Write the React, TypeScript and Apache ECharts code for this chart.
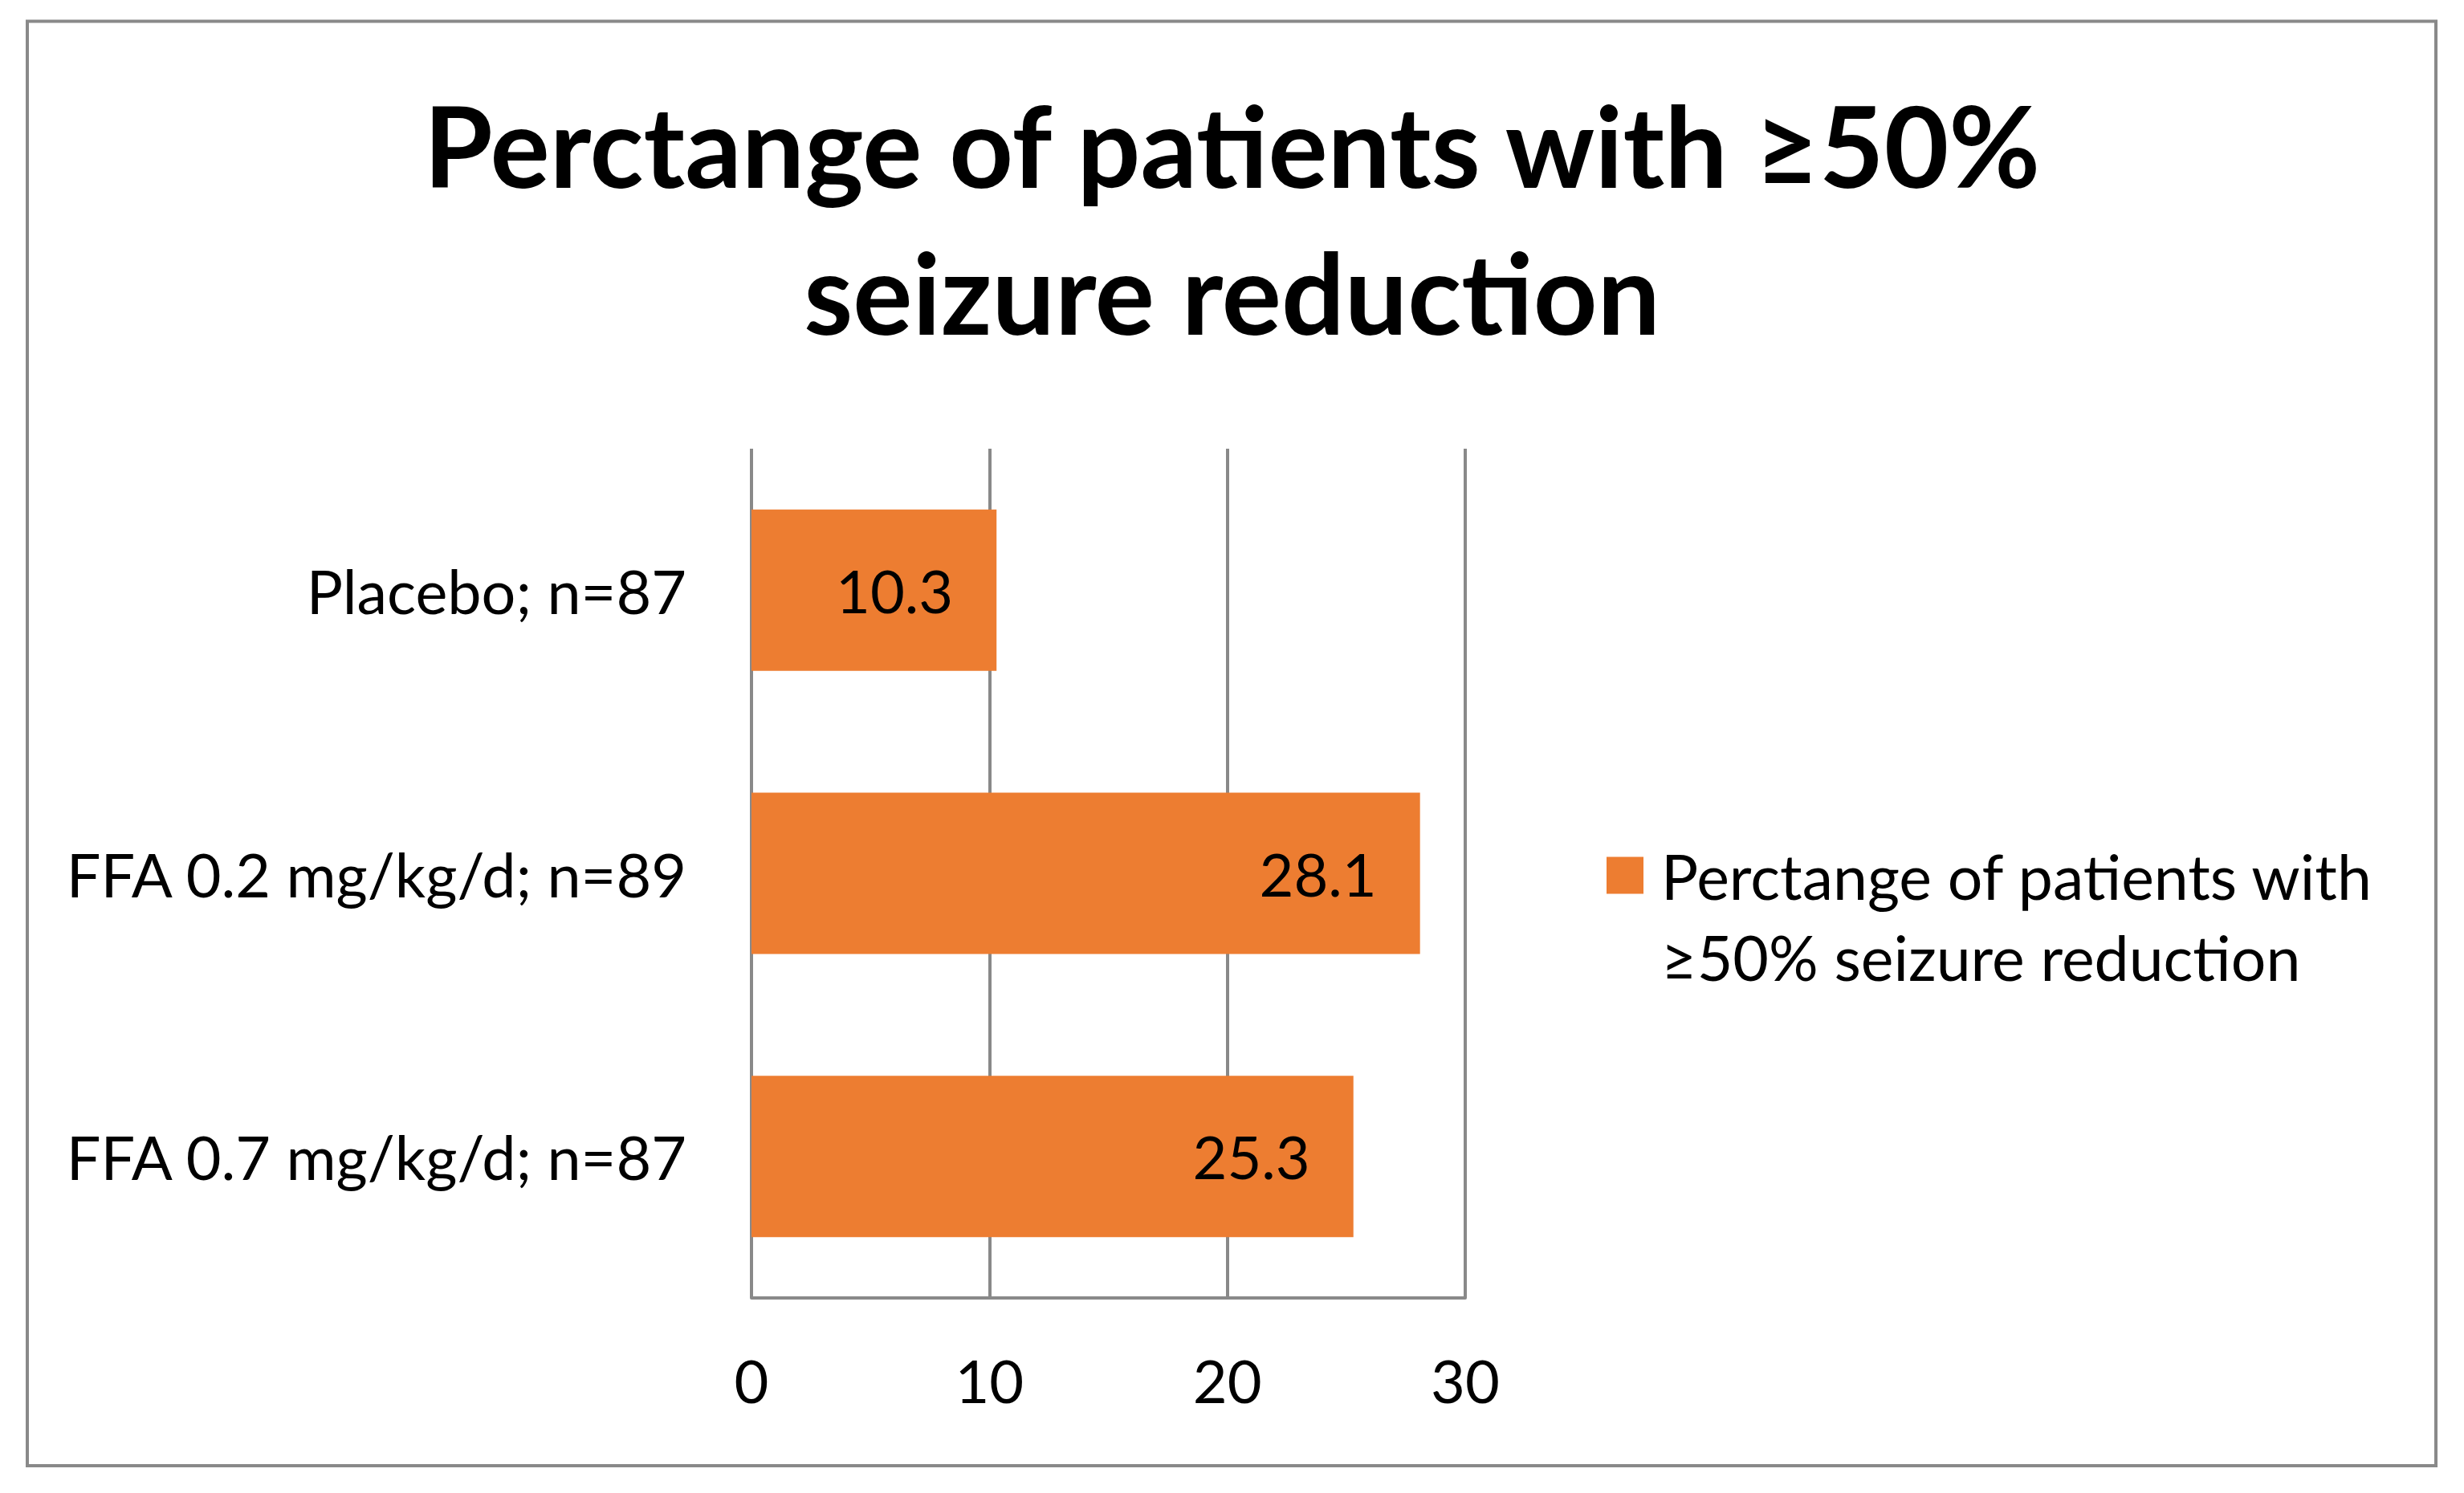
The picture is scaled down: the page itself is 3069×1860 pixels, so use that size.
import React, { useEffect, useRef } from "react";
import * as echarts from "echarts";

const categories = ["Placebo; n=87", "FFA 0.2 mg/kg/d; n=89", "FFA 0.7 mg/kg/d; n=87"];
const values = [10.3, 28.1, 25.3];
const seriesName = "Perctange of patients with ≥50% seizure reduction";
const legendLines = ["Perctange of patients with", "≥50% seizure reduction"];
const titleText = "Perctange of patients with ≥50%\nseizure reduction";
const xTicks = { min: 0, max: 30, interval: 10 };

const FONT = "Lato, 'Open Sans', sans-serif";
const GRAY = "#898989";

export default function App() {
  const ref = useRef<HTMLDivElement>(null);
  useEffect(() => {
    if (!ref.current) return;
    const chart = echarts.init(ref.current, undefined, { renderer: "svg" });
    chart.setOption({
      animation: false,
      backgroundColor: "#ffffff",
      textStyle: { fontFamily: FONT },
      title: {
        text: titleText,
        left: "center",
        top: 89,
        padding: 0,
        textStyle: {
          fontFamily: FONT,
          fontSize: 139,
          fontWeight: "bold",
          lineHeight: 183,
          color: "#000000",
        },
      },
      graphic: [
        {
          type: "rect",
          shape: { x: 34, y: 26.5, width: 3000, height: 1799.5 },
          style: { fill: "none", stroke: GRAY, lineWidth: 4 },
          silent: true,
        },
      ],
      legend: {
        show: true,
        orient: "vertical",
        left: 2001,
        top: 939,
        padding: 0,
        itemWidth: 46,
        itemHeight: 46,
        icon: "rect",
        data: [seriesName],
        formatter: () => " \n" + legendLines.join("\n"),
        textStyle: {
          fontFamily: FONT,
          fontSize: 77,
          lineHeight: 101,
          color: "#000000",
          padding: [0, 0, 0, 17],
        },
      },
      grid: { left: 936, top: 559, width: 889, height: 1058, containLabel: false },
      xAxis: {
        type: "value",
        min: xTicks.min,
        max: xTicks.max,
        interval: xTicks.interval,
        axisLine: { show: true, lineStyle: { color: GRAY, width: 4 } },
        axisTick: { show: false },
        splitLine: { show: true, lineStyle: { color: GRAY, width: 4 } },
        axisLabel: {
          fontFamily: FONT,
          fontSize: 74,
          color: "#000000",
          margin: 65,
          lineHeight: 74,
        },
      },
      yAxis: {
        type: "category",
        inverse: true,
        data: categories,
        axisLine: { show: false },
        axisTick: { show: false },
        splitLine: { show: false },
        axisLabel: {
          fontFamily: FONT,
          fontSize: 75.5,
          color: "#000000",
          margin: 81,
        },
      },
      series: [
        {
          name: seriesName,
          type: "bar",
          data: values,
          barCategoryGap: "43%",
          itemStyle: { color: "#ED7D31" },
          label: {
            show: true,
            position: "insideRight",
            distance: 54,
            fontFamily: FONT,
            fontSize: 74,
            color: "#000000",
          },
        },
      ],
    });
    return () => chart.dispose();
  }, []);
  return (
    <div
      ref={ref}
      style={{ position: "fixed", left: 0, top: 0, width: 3069, height: 1860, background: "#fff" }}
    />
  );
}
